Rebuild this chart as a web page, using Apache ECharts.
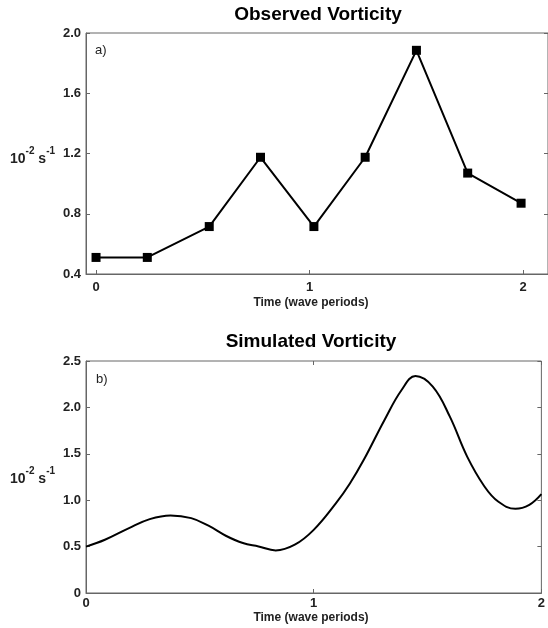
<!DOCTYPE html>
<html>
<head>
<meta charset="utf-8">
<script src="https://cdn.jsdelivr.net/npm/echarts@6/dist/echarts.min.js"></script>
<style>
  html, body { margin: 0; padding: 0; background: #fff; }
  #chart { width: 548px; height: 628px; }
</style>
</head>
<body>
<div id="chart"></div>
<script>
// observed vorticity (panel a)
const obsTime = [0, 0.24, 0.53, 0.77, 1.02, 1.26, 1.5, 1.74, 1.99];
const obsVort = [0.51, 0.51, 0.715, 1.175, 0.715, 1.175, 1.885, 1.07, 0.87];

// simulated vorticity (panel b)
const simTime = [0, 0.083, 0.189, 0.28, 0.371, 0.462, 0.538, 0.614, 0.689, 0.758, 0.833, 0.917,
  1.0, 1.098, 1.159, 1.22, 1.311, 1.386, 1.447, 1.523, 1.598, 1.674, 1.75, 1.81, 1.886, 1.947, 2.0];
const simVort = [0.5, 0.574, 0.7, 0.796, 0.836, 0.807, 0.725, 0.617, 0.538, 0.502, 0.459, 0.52,
  0.68, 0.968, 1.18, 1.435, 1.865, 2.188, 2.338, 2.224, 1.9, 1.47, 1.148, 0.986, 0.907, 0.95, 1.065];

const xTicks = [0, 1, 2];

const chart = echarts.init(document.getElementById("chart"));
const font = "Liberation Sans, Arial, sans-serif";
const frame = "#666";

const tickLabel = { fontFamily: font, fontWeight: "bold", fontSize: 13, color: "#222" };

let option = {
  animation: false,
  grid: [
    { left: 86, top: 33, width: 464, height: 241, show: true, borderColor: frame, borderWidth: 1, backgroundColor: "#fff" },
    { left: 86, top: 361, width: 461, height: 232, show: true, borderColor: frame, borderWidth: 1, backgroundColor: "#fff" }
  ],
  xAxis: [
    {
      gridIndex: 0, type: "value", min: -0.047, max: 2.116,
      axisLine: { onZero: false, lineStyle: { color: frame } },
      axisTick: { inside: true, length: 4, customValues: xTicks, lineStyle: { color: frame } },
      axisLabel: { ...tickLabel, margin: 7, customValues: xTicks, formatter: (v) => String(v) },
      splitLine: { show: false }
    },
    {
      gridIndex: 1, type: "value", min: 0, max: 2, interval: 1,
      axisLine: { onZero: false, lineStyle: { color: frame } },
      axisTick: { inside: true, length: 4, lineStyle: { color: frame } },
      axisLabel: { ...tickLabel, margin: 4, showMaxLabel: true, formatter: (v) => String(v) },
      splitLine: { show: false }
    },
    {
      gridIndex: 1, type: "value", min: 0, max: 2, interval: 1, position: "top",
      axisLine: { show: false, onZero: false },
      axisTick: { inside: true, length: 4, lineStyle: { color: frame } },
      axisLabel: { show: false },
      splitLine: { show: false }
    }
  ],
  yAxis: [
    {
      gridIndex: 0, type: "value", min: 0.4, max: 2.0, interval: 0.4,
      axisLine: { show: true, onZero: false, lineStyle: { color: frame } },
      axisTick: { show: true, inside: true, length: 4, lineStyle: { color: frame } },
      axisLabel: { ...tickLabel, margin: 5, formatter: (v) => v.toFixed(1) },
      splitLine: { show: false }
    },
    {
      gridIndex: 0, type: "value", min: 0.4, max: 2.0, interval: 0.4, position: "right",
      axisLine: { show: false, onZero: false },
      axisTick: { show: true, inside: true, length: 4, lineStyle: { color: frame } },
      axisLabel: { show: false },
      splitLine: { show: false }
    },
    {
      gridIndex: 1, type: "value", min: 0, max: 2.5, interval: 0.5,
      axisLine: { show: true, onZero: false, lineStyle: { color: frame } },
      axisTick: { show: true, inside: true, length: 4, lineStyle: { color: frame } },
      axisLabel: { ...tickLabel, margin: 5, formatter: (v) => (v === 0 ? "0" : v.toFixed(1)) },
      splitLine: { show: false }
    },
    {
      gridIndex: 1, type: "value", min: 0, max: 2.5, interval: 0.5, position: "right",
      axisLine: { show: false, onZero: false },
      axisTick: { show: true, inside: true, length: 4, lineStyle: { color: frame } },
      axisLabel: { show: false },
      splitLine: { show: false }
    }
  ],
  series: [
    {
      type: "line", xAxisIndex: 0, yAxisIndex: 0,
      data: obsTime.map((t, i) => [t, obsVort[i]]),
      symbol: "rect", symbolSize: 9,
      itemStyle: { color: "#000" },
      lineStyle: { color: "#000", width: 2 }
    },
    {
      type: "line", xAxisIndex: 1, yAxisIndex: 2,
      data: simTime.map((t, i) => [t, simVort[i]]),
      smooth: 0.4, showSymbol: false,
      lineStyle: { color: "#000", width: 2 }
    }
  ],
  graphic: [
    { type: "text", x: 318, y: 15, style: { text: "Observed Vorticity", font: "bold 19px " + font, fill: "#000", align: "center", verticalAlign: "middle" } },
    { type: "text", x: 311, y: 342, style: { text: "Simulated Vorticity", font: "bold 19px " + font, fill: "#000", align: "center", verticalAlign: "middle" } },
    { type: "text", x: 311, y: 303, style: { text: "Time (wave periods)", font: "bold 12px " + font, fill: "#222", align: "center", verticalAlign: "middle" } },
    { type: "text", x: 311, y: 618, style: { text: "Time (wave periods)", font: "bold 12px " + font, fill: "#222", align: "center", verticalAlign: "middle" } },
    { type: "text", x: 95, y: 50, style: { text: "a)", font: "13px " + font, fill: "#222", verticalAlign: "middle" } },
    { type: "text", x: 96, y: 379, style: { text: "b)", font: "13px " + font, fill: "#222", verticalAlign: "middle" } },
    {
      type: "text", x: 10, y: 156,
      style: {
        text: "{a|10}{s|-2}{a| s}{s|-1}", fill: "#222", verticalAlign: "middle",
        rich: {
          a: { fontFamily: font, fontWeight: "bold", fontSize: 14, verticalAlign: "bottom", lineHeight: 20 },
          s: { fontFamily: font, fontWeight: "bold", fontSize: 10, verticalAlign: "top", lineHeight: 20 }
        }
      }
    },
    {
      type: "text", x: 10, y: 476,
      style: {
        text: "{a|10}{s|-2}{a| s}{s|-1}", fill: "#222", verticalAlign: "middle",
        rich: {
          a: { fontFamily: font, fontWeight: "bold", fontSize: 14, verticalAlign: "bottom", lineHeight: 20 },
          s: { fontFamily: font, fontWeight: "bold", fontSize: 10, verticalAlign: "top", lineHeight: 20 }
        }
      }
    }
  ]
};

chart.setOption(option);
</script>
</body>
</html>
